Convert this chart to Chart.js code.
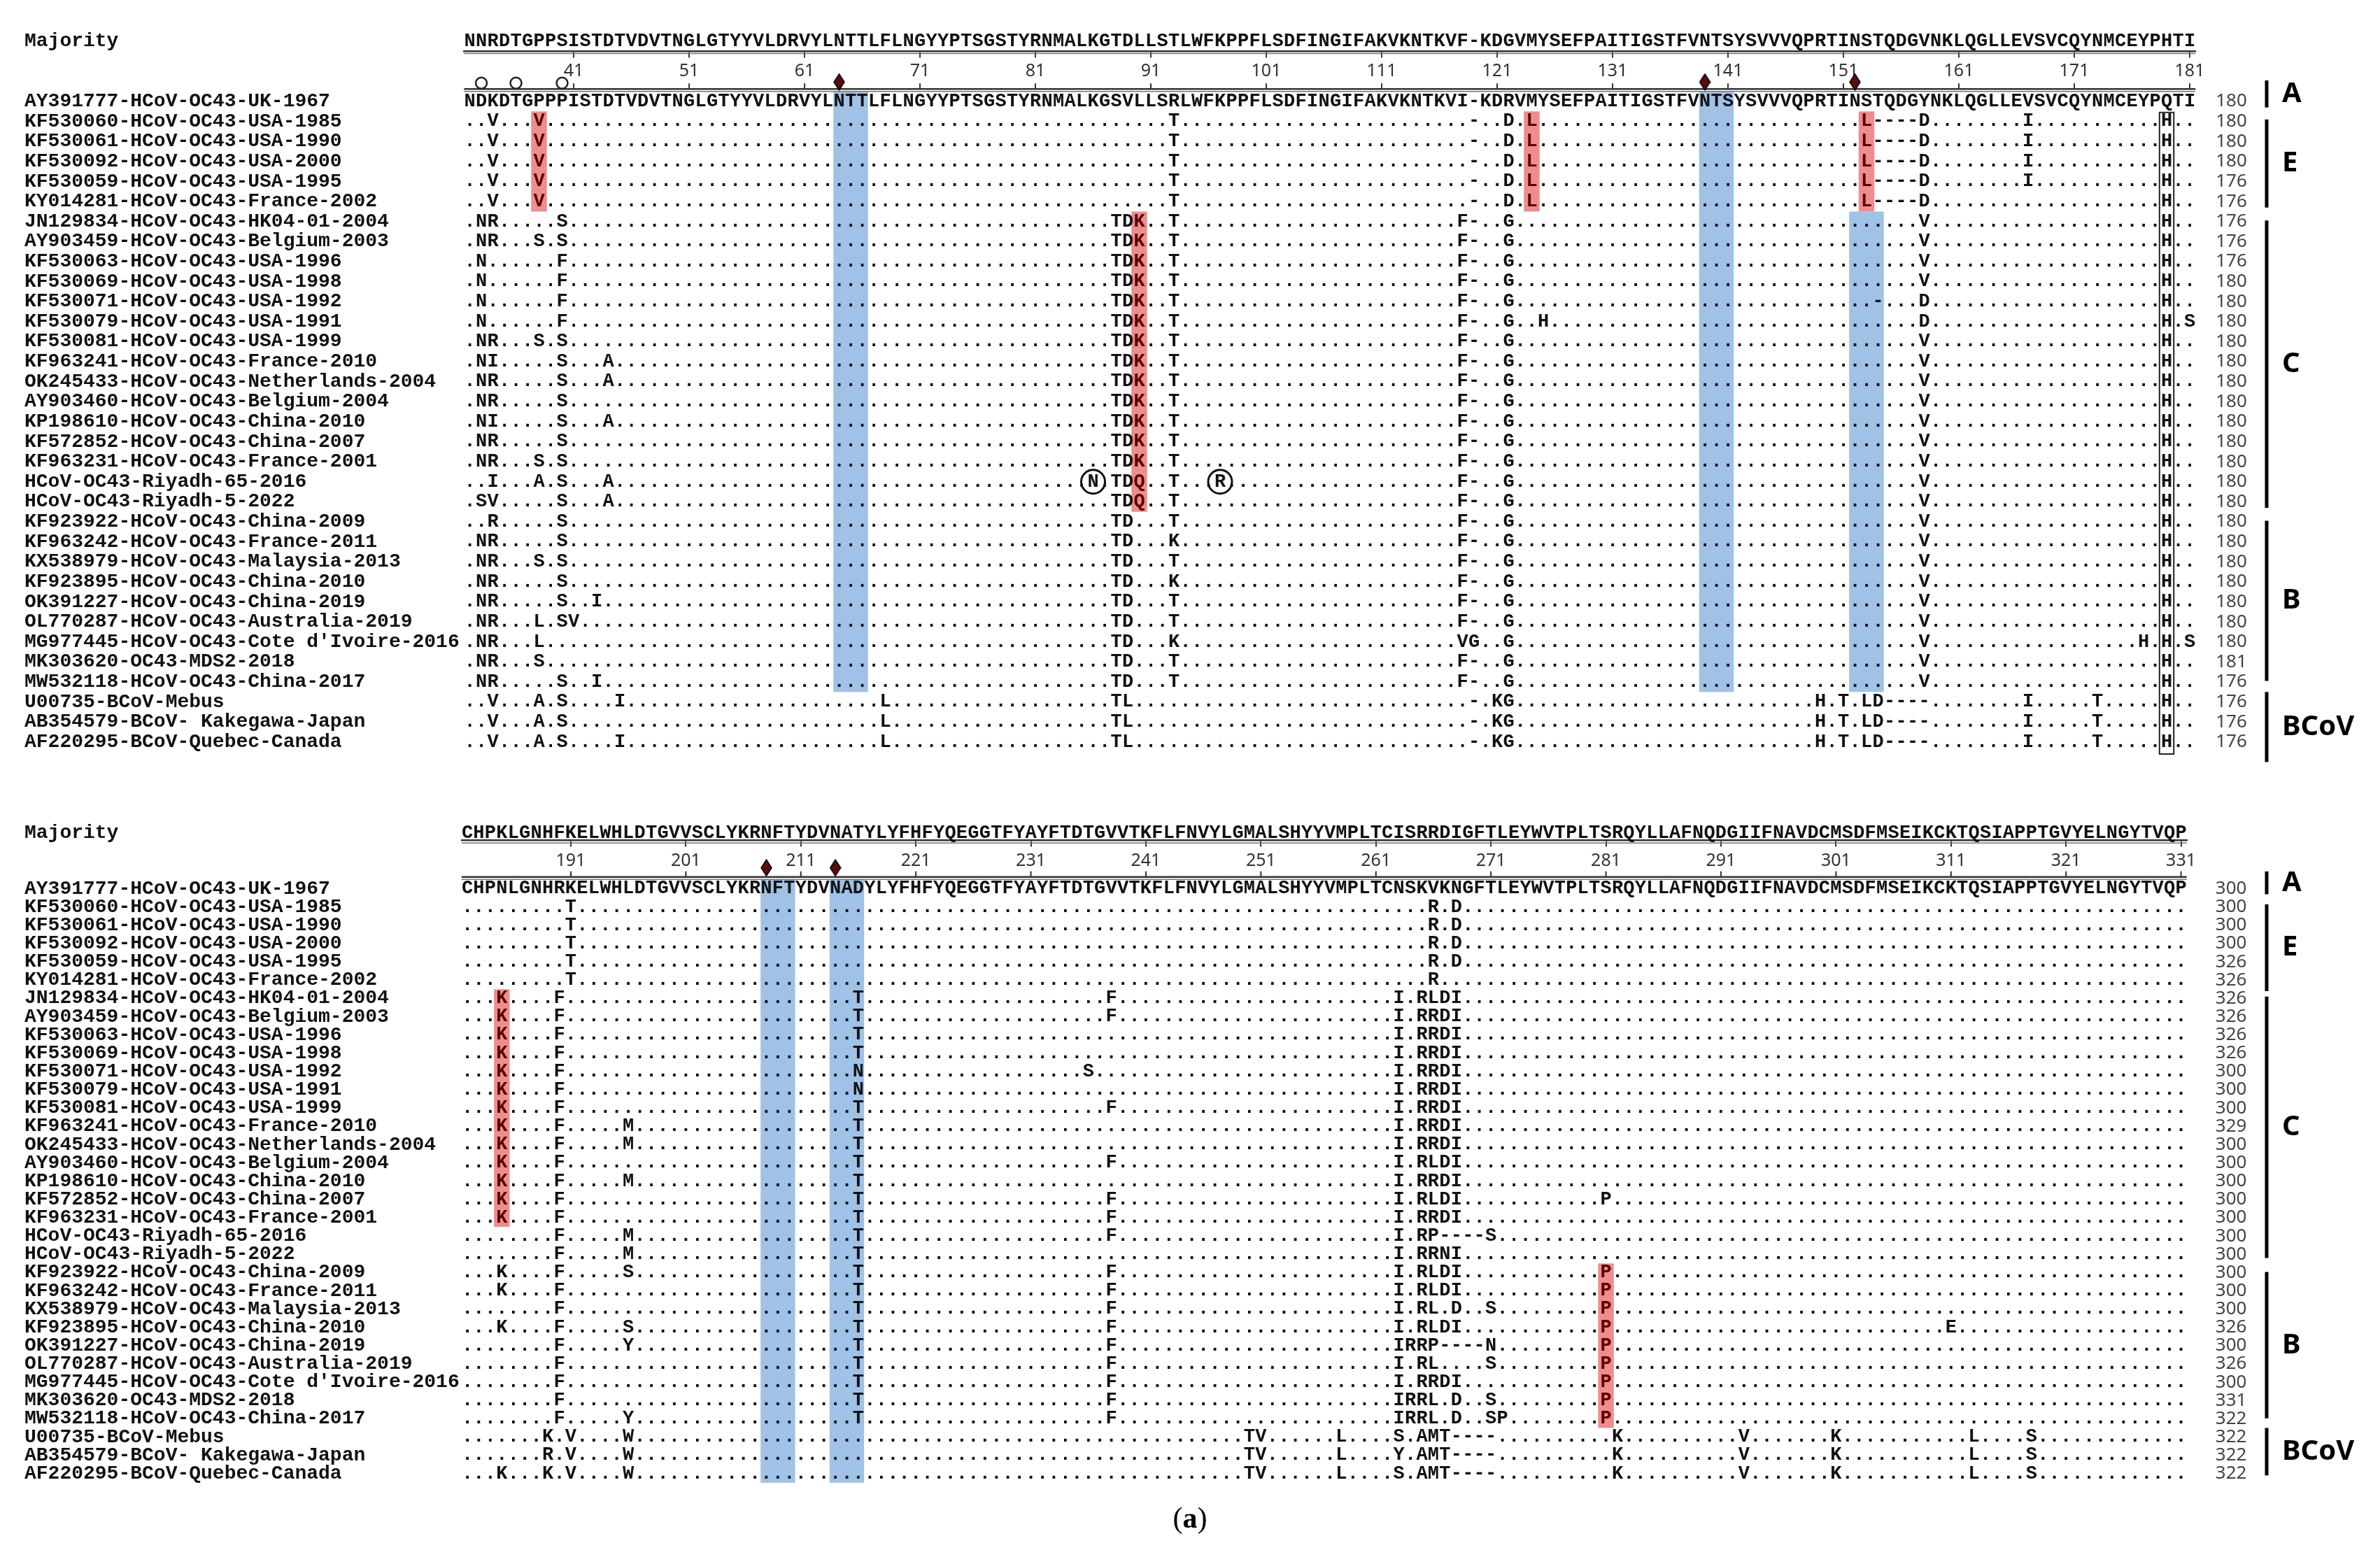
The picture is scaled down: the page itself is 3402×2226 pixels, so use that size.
<!DOCTYPE html>
<html><head><meta charset="utf-8">
<script src="https://cdn.jsdelivr.net/npm/chart.js@4.4.1/dist/chart.umd.min.js"></script>
<style>
html,body{margin:0;padding:0;background:#fff;}
#page{position:relative;width:3402px;height:2226px;overflow:hidden;background:#fff;}
canvas{position:absolute;left:0;}
#cap{position:absolute;left:0;width:3402px;top:2143px;text-align:center;font-family:'Liberation Serif',serif;font-size:42px;color:#000;line-height:54px;}
</style></head><body>
<div id="page">
<canvas id="c1" width="3402" height="1120" style="top:0"></canvas>
<canvas id="c2" width="3402" height="1106" style="top:1120px"></canvas>
<div id="cap">(<b>a</b>)</div>
</div>
<script>
// ---------------- DATA ----------------
const NAMES = [
"AY391777-HCoV-OC43-UK-1967","KF530060-HCoV-OC43-USA-1985","KF530061-HCoV-OC43-USA-1990",
"KF530092-HCoV-OC43-USA-2000","KF530059-HCoV-OC43-USA-1995","KY014281-HCoV-OC43-France-2002",
"JN129834-HCoV-OC43-HK04-01-2004","AY903459-HCoV-OC43-Belgium-2003","KF530063-HCoV-OC43-USA-1996",
"KF530069-HCoV-OC43-USA-1998","KF530071-HCoV-OC43-USA-1992","KF530079-HCoV-OC43-USA-1991",
"KF530081-HCoV-OC43-USA-1999","KF963241-HCoV-OC43-France-2010","OK245433-HCoV-OC43-Netherlands-2004",
"AY903460-HCoV-OC43-Belgium-2004","KP198610-HCoV-OC43-China-2010","KF572852-HCoV-OC43-China-2007",
"KF963231-HCoV-OC43-France-2001","HCoV-OC43-Riyadh-65-2016","HCoV-OC43-Riyadh-5-2022",
"KF923922-HCoV-OC43-China-2009","KF963242-HCoV-OC43-France-2011","KX538979-HCoV-OC43-Malaysia-2013",
"KF923895-HCoV-OC43-China-2010","OK391227-HCoV-OC43-China-2019","OL770287-HCoV-OC43-Australia-2019",
"MG977445-HCoV-OC43-Cote d'Ivoire-2016","MK303620-OC43-MDS2-2018","MW532118-HCoV-OC43-China-2017",
"U00735-BCoV-Mebus","AB354579-BCoV- Kakegawa-Japan","AF220295-BCoV-Quebec-Canada"];

const GROUPS = [{label:'A',rows:[0,0]},{label:'E',rows:[1,5]},{label:'C',rows:[6,20]},{label:'B',rows:[21,29]},{label:'BCoV',rows:[30,32]}];

// block 1 : positions 32-181
const MAJORITY_TOP = "NNRDTGPPSI STDTVDVTNG LGTYYVLDRV YLNTTLFLNG YYPTSGSTYR NMALKGTDLL STLWFKPPFL SDFINGIFAK VKNTKVF-KD GVMYSEFPAI TIGSTFVNTS YSVVVQPRTI NSTQDGVNKL QGLLEVSVCQ YNMCEYPHTI";
const REFERENCE_TOP = "NDKDTGPPPI STDTVDVTNG LGTYYVLDRV YLNTTLFLNG YYPTSGSTYR NMALKGSVLL SRLWFKPPFL SDFINGIFAK VKNTKVI-KD RVMYSEFPAI TIGSTFVNTS YSVVVQPRTI NSTQDGYNKL QGLLEVSVCQ YNMCEYPQTI";
const DIFFS_TOP = [
"34V 38V 93T 119- 122D 124L 153L----D 167I 179H",
"34V 38V 93T 119- 122D 124L 153L----D 167I 179H",
"34V 38V 93T 119- 122D 124L 153L----D 167I 179H",
"34V 38V 93T 119- 122D 124L 153L----D 167I 179H",
"34V 38V 93T 119- 122D 124L 153L----D 179H",
"33NR 40S 88TDK 93T 118F- 122G 158V 179H",
"33NR 38S 40S 88TDK 93T 118F- 122G 158V 179H",
"33N 40F 88TDK 93T 118F- 122G 158V 179H",
"33N 40F 88TDK 93T 118F- 122G 158V 179H",
"33N 40F 88TDK 93T 118F- 122G 154- 158D 179H",
"33N 40F 88TDK 93T 118F- 122G 125H 158D 179H 181S",
"33NR 38S 40S 88TDK 93T 118F- 122G 158V 179H",
"33NI 40S 44A 88TDK 93T 118F- 122G 158V 179H",
"33NR 40S 44A 88TDK 93T 118F- 122G 158V 179H",
"33NR 40S 88TDK 93T 118F- 122G 158V 179H",
"33NI 40S 44A 88TDK 93T 118F- 122G 158V 179H",
"33NR 40S 88TDK 93T 118F- 122G 158V 179H",
"33NR 38S 40S 88TDK 93T 118F- 122G 158V 179H",
"34I 38A 40S 44A 86N 88TDQ 93T 97R 118F- 122G 158V 179H",
"33SV 40S 44A 88TDQ 93T 118F- 122G 158V 179H",
"34R 40S 88TD 93T 118F- 122G 158V 179H",
"33NR 40S 88TD 93K 118F- 122G 158V 179H",
"33NR 38S 40S 88TD 93T 118F- 122G 158V 179H",
"33NR 40S 88TD 93K 118F- 122G 158V 179H",
"33NR 40S 43I 88TD 93T 118F- 122G 158V 179H",
"33NR 38L 40SV 88TD 93T 118F- 122G 158V 179H",
"33NR 38L 88TD 93K 118VG 122G 158V 177H 179H 181S",
"33NR 38S 88TD 93T 118F- 122G 158V 179H",
"33NR 40S 43I 88TD 93T 118F- 122G 158V 179H",
"34V 38A 40S 45I 68L 88TL 119- 121KG 149H 151T 153LD---- 167I 173T 179H",
"34V 38A 40S 68L 88TL 119- 121KG 149H 151T 153LD---- 167I 173T 179H",
"34V 38A 40S 45I 68L 88TL 119- 121KG 149H 151T 153LD---- 167I 173T 179H"];
const LENGTHS_TOP = [180,180,180,180,176,176,176,176,176,180,180,180,180,180,180,180,180,180,180,180,180,180,180,180,180,180,180,180,181,176,176,176,176];
const TICKS_TOP = [41,51,61,71,81,91,101,111,121,131,141,151,161,171,181];
const SITE_BANDS_TOP = [{from:64,to:66,rows:[0,29]},{from:139,to:141,rows:[0,29]},{from:152,to:154,rows:[6,29]}];
const MUT_CELLS_TOP = [{pos:38,rows:[1,5]},{pos:124,rows:[1,5]},{pos:153,rows:[1,5]},{pos:90,rows:[6,20]}];
const GLYCO_SITES_TOP = [64,139,152];
const OPEN_SITES_TOP = [33,36,40];
const CIRCLED_TOP = [{row:19,pos:86},{row:19,pos:97}];
const BOXED_TOP = {pos:179,rows:[1,32]};

// block 2 : positions 182-331
const MAJORITY_BOT = "CHPKLGNHFK ELWHLDTGVV SCLYKRNFTY DVNATYLYFH FYQEGGTFYA YFTDTGVVTK FLFNVYLGMA LSHYYVMPLT CISRRDIGFT LEYWVTPLTS RQYLLAFNQD GIIFNAVDCM SDFMSEIKCK TQSIAPPTGV YELNGYTVQP";
const REFERENCE_BOT = "CHPNLGNHRK ELWHLDTGVV SCLYKRNFTY DVNADYLYFH FYQEGGTFYA YFTDTGVVTK FLFNVYLGMA LSHYYVMPLT CNSKVKNGFT LEYWVTPLTS RQYLLAFNQD GIIFNAVDCM SDFMSEIKCK TQSIAPPTGV YELNGYTVQP";
const DIFFS_BOT = [
"191T 266R 268D","191T 266R 268D","191T 266R 268D","191T 266R 268D","191T 266R",
"185K 190F 216T 238F 263I 265RLDI",
"185K 190F 216T 238F 263I 265RRDI",
"185K 190F 216T 263I 265RRDI",
"185K 190F 216T 263I 265RRDI",
"185K 190F 216N 236S 263I 265RRDI",
"185K 190F 216N 263I 265RRDI",
"185K 190F 216T 238F 263I 265RRDI",
"185K 190F 196M 216T 263I 265RRDI",
"185K 190F 196M 216T 263I 265RRDI",
"185K 190F 216T 238F 263I 265RLDI",
"185K 190F 196M 216T 263I 265RRDI",
"185K 190F 216T 238F 263I 265RLDI 281P",
"185K 190F 216T 238F 263I 265RRDI",
"190F 196M 216T 238F 263I 265RP----S",
"190F 196M 216T 263I 265RRNI",
"185K 190F 196S 216T 238F 263I 265RLDI 281P",
"185K 190F 216T 238F 263I 265RLDI 281P",
"190F 216T 238F 263I 265RL.D..S 281P",
"185K 190F 196S 216T 238F 263I 265RLDI 281P 311E",
"190F 196Y 216T 238F 263IRRP----N 281P",
"190F 216T 238F 263I 265RL....S 281P",
"190F 216T 238F 263I 265RRDI 281P",
"190F 216T 238F 263IRRL.D..S 281P",
"190F 196Y 216T 238F 263IRRL.D..SP 281P",
"189K 191V 196W 250TV 258L 263S 265AMT---- 282K 293V 301K 313L 318S",
"189R 191V 196W 250TV 258L 263Y 265AMT---- 282K 293V 301K 313L 318S",
"185K 189K 191V 196W 250TV 258L 263S 265AMT---- 282K 293V 301K 313L 318S"];
const LENGTHS_BOT = [300,300,300,300,326,326,326,326,326,326,300,300,300,329,300,300,300,300,300,300,300,300,300,300,326,300,326,300,331,322,322,322,322];
const TICKS_BOT = [191,201,211,221,231,241,251,261,271,281,291,301,311,321,331];
const SITE_BANDS_BOT = [{from:208,to:210,rows:[0,32]},{from:214,to:216,rows:[0,32]}];
const MUT_CELLS_BOT = [{pos:185,rows:[6,18]},{pos:281,rows:[21,29]}];
const GLYCO_SITES_BOT = [208,214];
const OPEN_SITES_BOT = [];
const CIRCLED_BOT = [];
const BOXED_BOT = null;

// ---------------- LAYOUT / STYLE ----------------
const W = 3402;
const STYLE = {
  ink:'#111', mutInk:'#5a0000', blue:'#9fc2e6', red:'#ef8c8c',
  seqFont:'bold 27px "Liberation Mono", monospace',
  groupFont:'bold 40px "Noto Sans", sans-serif'
};
const LAYOUT_TOP = {Y0:139.5,S:28.97,rmin:-3.6,rmax:32.6,height:1120,X0:671.5,DX:16.5,padLeft:35,lenPad:29,
  majRow:-3,rulerTopRow:-2.52,rulerBotRow:-0.62,markRow:-0.97,openRow:-0.92,bracketX:3240,groupX:3262,
  brackets:[[-1.05,0.3],[0.9,5.3],[5.95,20.3],[20.95,28.95],[29.5,33]]};
const LAYOUT_BOT = {Y0:125.5,S:26.9,rmin:-3.7,rmax:32.6,height:1106,X0:668,DX:16.44,padLeft:35,lenPad:41,
  majRow:-3.06,rulerTopRow:-2.64,rulerBotRow:-0.65,markRow:-1.15,openRow:-0.9,bracketX:3240,groupX:3262,
  brackets:[[-0.95,0.3],[0.85,5.6],[5.9,20.2],[20.97,28.98],[29.5,32.1]]};

function expand(diff, start){
  const a = Array(150).fill('.');
  diff.split(' ').forEach(tok=>{
    const m = tok.match(/^(\d+)(.+)$/); if(!m) return;
    const p = +m[1]-start;
    for(let k=0;k<m[2].length;k++) a[p+k]=m[2][k];
  });
  return a;
}

function diamondImg(){
  const c=document.createElement('canvas'); c.width=17; c.height=25;
  const g=c.getContext('2d');
  g.beginPath(); g.moveTo(8.5,1); g.lineTo(16,12.5); g.lineTo(8.5,24); g.lineTo(1,12.5); g.closePath();
  g.fillStyle='#5b0c0c'; g.fill(); g.lineWidth=1.5; g.strokeStyle='#000'; g.stroke();
  return c;
}

function makeChart(canvasId, L, D){
  const start = D.start;
  const left = L.X0 - L.DX/2, right = left + 150*L.DX;
  const padTop = L.Y0 + L.S*L.rmin;
  const padBottom = L.height - (L.Y0 + L.S*L.rmax);
  const rowsIdx = Array.from({length:33},(_,i)=>i);
  const majority = D.majority.replace(/ /g,'').split('');
  const rows = [D.reference.replace(/ /g,'').split('')].concat(D.diffs.map(d=>expand(d,start)));
  const isMut = (r,p)=>D.muts.some(m=>m.pos===p && r>=m.rows[0] && r<=m.rows[1]);

  const plugin = {
    id:'alignment'+canvasId,
    beforeDatasetsDraw(chart){
      const {ctx, chartArea:ca} = chart; const xs=chart.scales.x, ys=chart.scales.y;
      ctx.save();
      D.bands.forEach(h=>{
        const x1=xs.getPixelForValue(h.from-0.5), x2=xs.getPixelForValue(h.to+0.5);
        const y1=ys.getPixelForValue(h.rows[0]-0.5), y2=ys.getPixelForValue(h.rows[1]+0.5);
        ctx.fillStyle=STYLE.blue; ctx.fillRect(x1,y1,x2-x1,y2-y1);
      });
      D.muts.forEach(h=>{
        const x1=xs.getPixelForValue(h.pos-0.68), x2=xs.getPixelForValue(h.pos+0.68);
        const y1=ys.getPixelForValue(h.rows[0]-0.5), y2=ys.getPixelForValue(h.rows[1]+0.5);
        ctx.fillStyle=STYLE.red; ctx.fillRect(x1,y1,x2-x1,y2-y1);
      });
      const ln=(a,b,c,d)=>{ctx.beginPath();ctx.moveTo(a,b);ctx.lineTo(c,d);ctx.stroke();};
      const yt=ys.getPixelForValue(L.rulerTopRow), yb=ys.getPixelForValue(L.rulerBotRow);
      ctx.strokeStyle='#777'; ctx.lineWidth=1.5; ln(ca.left,yt+3.5,ca.right,yt+3.5);
      ctx.strokeStyle='#333'; ctx.lineWidth=2.5; ln(ca.left,yb,ca.right,yb);
      ctx.strokeStyle='#777'; ctx.lineWidth=1.5; ln(ca.left,yb+3.5,ca.right,yb+3.5);
      ctx.strokeStyle='#333'; ctx.lineWidth=2;
      xs.ticks.forEach(t=>{const px=xs.getPixelForValue(t.value); ln(px,yb,px,yb-8);});
      ctx.restore();
    },
    afterDatasetsDraw(chart){
      const {ctx} = chart; const xs=chart.scales.x, ys=chart.scales.y;
      ctx.save();
      ctx.textAlign='center'; ctx.textBaseline='middle'; ctx.font=STYLE.seqFont; ctx.fillStyle=STYLE.ink;
      const ym=ys.getPixelForValue(L.majRow);
      majority.forEach((ch,i)=>ctx.fillText(ch, xs.getPixelForValue(start+i), ym));
      rows.forEach((arr,r)=>{
        const py=ys.getPixelForValue(r);
        arr.forEach((ch,i)=>{
          const p=start+i;
          ctx.fillStyle = isMut(r,p)?STYLE.mutInk:STYLE.ink;
          ctx.fillText(ch, xs.getPixelForValue(p), py);
        });
      });
      if (D.boxed){
        const b=D.boxed;
        const x1=xs.getPixelForValue(b.pos-0.62), x2=xs.getPixelForValue(b.pos+0.62);
        const y1=ys.getPixelForValue(b.rows[0]-0.45), y2=ys.getPixelForValue(b.rows[1]+0.6);
        ctx.strokeStyle='#222'; ctx.lineWidth=2; ctx.strokeRect(x1,y1,x2-x1,y2-y1);
      }
      D.circled.forEach(c=>{
        ctx.beginPath(); ctx.arc(xs.getPixelForValue(c.pos), ys.getPixelForValue(c.row), 17, 0, Math.PI*2);
        ctx.lineWidth=3; ctx.strokeStyle='#111'; ctx.stroke();
      });
      D.groups.forEach((g,k)=>{
        const [a,b]=L.brackets[k]; const y1=ys.getPixelForValue(a), y2=ys.getPixelForValue(b);
        ctx.beginPath(); ctx.moveTo(L.bracketX,y1); ctx.lineTo(L.bracketX,y2);
        ctx.lineWidth=5; ctx.strokeStyle='#000'; ctx.stroke();
        ctx.font=STYLE.groupFont; ctx.textAlign='left'; ctx.fillStyle='#000';
        ctx.fillText(g.label, L.groupX, (y1+y2)/2);
      });
      ctx.restore();
    }
  };

  return new Chart(document.getElementById(canvasId), {
    type:'scatter',
    data:{datasets:[
      {data:D.glyco.map(p=>({x:p,y:L.markRow})), pointStyle:diamondImg(), radius:10, clip:false},
      {data:D.open.map(p=>({x:p,y:L.openRow})), pointStyle:'circle', radius:8, borderWidth:2.5,
       borderColor:'#222', backgroundColor:'#fff', clip:false}
    ]},
    options:{
      responsive:false, animation:false, devicePixelRatio:1,
      layout:{padding:{left:L.padLeft, right:0, top:padTop, bottom:padBottom}},
      plugins:{legend:{display:false}, tooltip:{enabled:false}},
      events:[],
      scales:{
        x:{type:'linear', min:start-0.5, max:start+149.5,
           position:{y:L.rulerTopRow},
           afterFit:s=>{s.height=0;},
           afterBuildTicks:s=>{s.ticks=D.ticks.map(v=>({value:v}));},
           grid:{display:true, drawOnChartArea:false, drawTicks:true, tickLength:8, color:'#333', lineWidth:2},
           border:{display:true, color:'#333', width:2.5},
           ticks:{autoSkip:false, maxRotation:0, padding:6, color:'#333',
                  font:{family:'"Noto Sans", sans-serif', size:25}, callback:v=>String(v)}},
        y:{type:'linear', reverse:true, min:L.rmin, max:L.rmax, position:'left',
           afterFit:s=>{s.width=left-L.padLeft;},
           afterBuildTicks:s=>{s.ticks=[L.majRow].concat(rowsIdx).map(v=>({value:v}));},
           grid:{display:false, drawTicks:false}, border:{display:false},
           ticks:{autoSkip:false, crossAlign:'far', padding:0, color:'#111',
                  font:{family:'"Liberation Mono", monospace', size:28, weight:'bold', lineHeight:1},
                  callback:(v,i)=> i===0 ? 'Majority' : NAMES[i-1]}},
        y2:{type:'linear', reverse:true, min:L.rmin, max:L.rmax, position:'right',
           afterFit:s=>{s.width=W-right;},
           afterBuildTicks:s=>{s.ticks=rowsIdx.map(v=>({value:v}));},
           grid:{display:false, drawTicks:false}, border:{display:false},
           ticks:{autoSkip:false, padding:L.lenPad, color:'#444',
                  font:{family:'"Noto Sans", sans-serif', size:26, lineHeight:1},
                  callback:(v,i)=>String(D.lengths[i])}}
      }
    },
    plugins:[plugin]
  });
}

makeChart('c1', LAYOUT_TOP, {start:32, majority:MAJORITY_TOP, reference:REFERENCE_TOP, diffs:DIFFS_TOP,
  lengths:LENGTHS_TOP, ticks:TICKS_TOP, bands:SITE_BANDS_TOP, muts:MUT_CELLS_TOP, glyco:GLYCO_SITES_TOP,
  open:OPEN_SITES_TOP, circled:CIRCLED_TOP, boxed:BOXED_TOP, groups:GROUPS});
makeChart('c2', LAYOUT_BOT, {start:182, majority:MAJORITY_BOT, reference:REFERENCE_BOT, diffs:DIFFS_BOT,
  lengths:LENGTHS_BOT, ticks:TICKS_BOT, bands:SITE_BANDS_BOT, muts:MUT_CELLS_BOT, glyco:GLYCO_SITES_BOT,
  open:OPEN_SITES_BOT, circled:CIRCLED_BOT, boxed:BOXED_BOT, groups:GROUPS});
</script>
</body></html>
